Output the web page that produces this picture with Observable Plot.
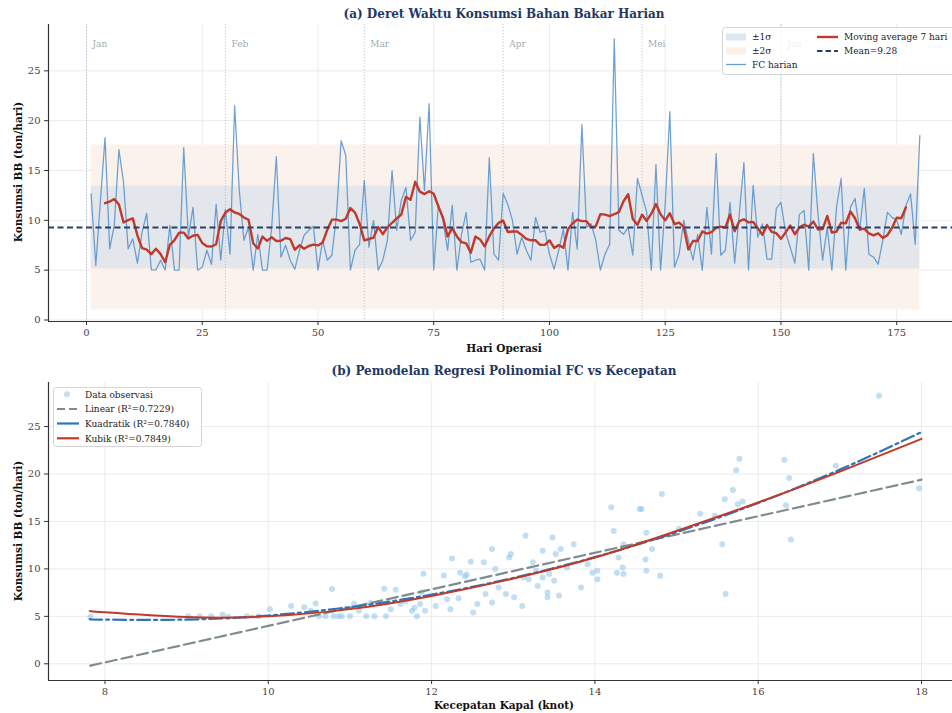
<!DOCTYPE html>
<html><head><meta charset="utf-8">
<script src="https://cdn.jsdelivr.net/npm/d3@7"></script>
<script src="https://cdn.jsdelivr.net/npm/@observablehq/plot@0.6"></script>
<style>
html,body{margin:0;padding:0;background:#fff;overflow:hidden;width:952px;height:713px;}
#root{position:relative;width:952px;height:713px;overflow:hidden;font-family:"DejaVu Serif",serif;}
#root svg{max-width:none !important;}
.abs{position:absolute;white-space:nowrap;line-height:1;}
.title{font-weight:bold;font-size:12px;color:#1f3864;transform:translate(-50%,-50%);}
.xlabel{font-weight:bold;font-size:10.5px;color:#111;transform:translate(-50%,-50%);}
.ylabel{font-weight:bold;font-size:10.5px;color:#111;transform:translate(-50%,-50%) rotate(-90deg);}
.plotbox{position:absolute;left:0;width:961px;}
</style></head>
<body><div id="root"></div>
<script>
// ---------- DATA: panel (a) ----------
const fcDaily = [
 12.66, 5.47, 11.9, 18.3, 7.14, 9.5, 17.1, 13.8, 7.14, 8.14,
 5.7, 8.8, 10.7, 5.03, 5.03, 6.0, 5.0, 9.5, 5.0, 5.0,
 17.3, 8.3, 11.3, 5.0, 5.3, 7.0, 5.6, 11.6, 6.0, 11.1,
 6.6, 21.5, 13.0, 8.0, 9.3, 5.0, 8.6, 5.0, 5.0, 9.3,
 16.4, 6.3, 7.5, 6.0, 5.1, 7.0, 8.5, 9.0, 9.4, 5.0,
 8.0, 6.0, 6.5, 10.5, 18.0, 16.5, 5.0, 7.0, 7.6, 14.0,
 7.3, 10.0, 5.0, 6.0, 8.0, 15.0, 9.0, 12.0, 13.3, 8.0,
 8.8, 20.35, 13.0, 21.7, 5.0, 11.6, 10.0, 7.0, 11.5, 5.0,
 8.6, 10.8, 5.8, 6.0, 6.1, 5.0, 16.3, 6.6, 6.0, 12.7,
 11.6, 10.0, 6.6, 8.3, 7.0, 6.0, 10.3, 8.8, 9.0, 6.6,
 5.1, 7.0, 9.1, 5.0, 10.8, 7.1, 19.6, 9.3, 9.65, 8.0,
 5.0, 6.6, 7.6, 28.2, 9.0, 8.6, 9.3, 6.5, 14.2, 12.5,
 10.8, 5.0, 15.6, 5.0, 11.6, 20.9, 5.3, 6.6, 10.0, 8.0,
 6.0, 8.6, 5.0, 11.3, 6.6, 16.7, 6.5, 7.0, 11.8, 5.7,
 10.6, 15.8, 5.0, 13.5, 8.3, 9.65, 6.1, 6.1, 11.2, 11.8,
 8.8, 7.3, 5.7, 10.6, 11.0, 5.0, 16.7, 10.6, 6.0, 9.3,
 5.0, 11.3, 14.2, 5.0, 11.3, 12.2, 9.0, 13.2, 6.6, 6.3,
 5.6, 8.0, 10.8, 10.3, 10.0, 8.6, 11.5, 12.66, 7.6, 18.5
];
const meanFC = 9.28;
const sdFC = 4.14;
const monthNames = ["Jan","Feb","Mar","Apr","Mei","Jun"];
const monthStartDays = [0, 30, 60, 90, 120, 150];
const xTicksA = [0, 25, 50, 75, 100, 125, 150, 175];
const yTicks = [0, 5, 10, 15, 20, 25];

// ---------- DATA: panel (b) ----------
const speedObs = [7.82,9.02,9.16,9.3,9.44,9.51,9.74,9.88,10.02,10.28,10.44,10.52,10.58,10.62,10.7,10.78,10.8,10.86,10.9,11.0,
 11.05,11.11,11.2,11.25,11.3,11.42,11.44,11.5,11.56,11.62,11.68,11.76,11.79,11.82,11.86,11.88,11.9,11.92,12.05,12.15,
 12.19,12.23,12.25,12.33,12.35,12.41,12.43,12.48,12.51,12.56,12.64,12.66,12.74,12.74,12.78,12.82,12.91,12.95,12.97,13.01,
 13.11,13.13,13.15,13.19,13.24,13.28,13.3,13.36,13.36,13.42,13.42,13.44,13.48,13.5,13.52,13.56,13.58,13.66,13.74,13.83,
 13.91,13.97,14.03,14.03,14.2,14.23,14.27,14.29,14.34,14.35,14.35,14.55,14.57,14.62,14.63,14.63,14.7,14.8,14.82,15.03,
 15.29,15.47,15.56,15.59,15.6,15.69,15.73,15.75,15.77,15.81,16.32,16.34,16.38,16.4,16.95,17.48,17.97];
const fcObs = [4.95,5.0,5.0,5.0,5.2,4.95,5.0,5.0,5.76,6.1,5.95,5.6,6.36,5.0,5.0,7.87,5.0,5.0,5.0,5.0,
 6.3,5.6,5.0,6.4,5.0,7.9,5.0,5.75,7.8,6.3,6.6,5.6,5.9,5.0,6.3,7.5,9.5,5.6,6.1,9.3,
 6.8,5.75,11.1,6.9,9.6,9.2,9.4,10.75,5.4,6.3,10.7,7.35,12.1,6.46,9.98,8.04,7.35,11.2,11.56,7.0,
 6.1,9.1,13.5,8.9,10.7,9.8,8.2,11.9,9.1,7.5,7.0,9.45,13.3,8.75,11.56,7.2,12.1,10.15,12.6,8.04,
 10.5,9.6,8.9,9.8,16.5,14.0,9.6,11.2,10.15,9.45,12.6,16.3,16.3,11.0,9.8,13.8,12.1,9.27,17.9,14.2,
 15.8,15.6,12.6,17.35,7.35,18.3,20.4,16.8,21.6,17.1,21.5,16.7,19.57,13.1,20.86,28.24,18.5];
const linearSpeed = [7.82, 18.0];
const linearFC = [-0.2, 19.4];
const curveSpeed = [7.82, 8, 9, 10, 11, 12, 13, 14, 15, 16, 17, 18];
const quadFC  = [4.70, 4.66, 4.66, 5.09, 5.97, 7.29, 9.04, 11.24, 13.87, 16.95, 20.46, 24.41];
const cubicFC = [5.55, 5.42, 4.92, 5.00, 5.76, 7.15, 8.98, 11.20, 14.00, 17.00, 20.25, 23.70];
const xTicksB = [8, 10, 12, 14, 16, 18];

// ---------- build tables ----------
const seriesA = fcDaily.map((v, i) => ({day: i + 1, fc: v}));
const bandData = [
  {x1: 1, x2: fcDaily.length, lo: meanFC - 2 * sdFC, hi: meanFC + 2 * sdFC, fill: "#fbf2ec"},
  {x1: 1, x2: fcDaily.length, lo: meanFC - sdFC, hi: meanFC + sdFC, fill: "#e3e6ea"}
];
const months = monthNames.map((m, i) => ({name: m, day: monthStartDays[i]}));
const obs = speedObs.map((s, i) => ({speed: s, fc: fcObs[i]}));
const linTable = linearSpeed.map((s, i) => ({speed: s, fc: linearFC[i]}));
const quadTable = curveSpeed.map((s, i) => ({speed: s, fc: quadFC[i]}));
const cubTable = curveSpeed.map((s, i) => ({speed: s, fc: cubicFC[i]}));

const root = document.getElementById("root");
function addText(cls, txt, x, y) {
  const d = document.createElement("div");
  d.className = "abs " + cls; d.textContent = txt;
  d.style.left = x + "px"; d.style.top = y + "px";
  root.appendChild(d);
}
const baseStyle = {fontFamily: "DejaVu Serif, serif", fontSize: "10px", color: "#444", background: "transparent", overflow: "visible", maxWidth: "none"};
const gridCol = "#e6e6e6";

// ---------- panel (a) ----------
const xDomA = [-8.21, 189], yDomA = [-0.15, 29.65];
const plotA = Plot.plot({
  width: 961, height: 360, marginLeft: 48, marginRight: 0, marginTop: 24, marginBottom: 39,
  style: baseStyle,
  x: {domain: xDomA, label: null}, y: {domain: yDomA, label: null},
  marks: [
    Plot.gridX(xTicksA, {stroke: gridCol, strokeOpacity: 1, strokeWidth: 0.8}),
    Plot.gridY(yTicks, {stroke: gridCol, strokeOpacity: 1, strokeWidth: 0.8}),
    Plot.rect(bandData, {x1: "x1", x2: "x2", y1: "lo", y2: "hi", fill: d => d.fill}),
    Plot.ruleX(months, {x: "day", stroke: "#b4c1ce", strokeWidth: 0.9, strokeDasharray: "1.2,1.8"}),
    Plot.text(months, {x: "day", y: 27.67, text: "name", dx: 6, textAnchor: "start", fill: "#a4abb3", fontSize: 9}),
    Plot.lineY(seriesA, {x: "day", y: "fc", stroke: "#4a8ac8", strokeOpacity: 0.8, strokeWidth: 1.25}),
    Plot.lineY(seriesA, Plot.windowY({k: 7, anchor: "middle", strict: true, reduce: "mean"},
      {x: "day", y: "fc", stroke: "#c0392b", strokeWidth: 2.4})),
    Plot.ruleY([meanFC], {stroke: "#2c3e6b", strokeWidth: 1.8, strokeDasharray: "6,3.5"}),
    Plot.ruleX([xDomA[0]], {stroke: "#333", strokeWidth: 1.2}),
    Plot.ruleY([yDomA[0]], {stroke: "#333", strokeWidth: 1.2}),
    Plot.axisX(xTicksA, {tickSize: 4, tickPadding: 3, label: null, stroke: "#333"}),
    Plot.axisY(yTicks, {tickSize: 4, tickPadding: 4, label: null, stroke: "#333"})
  ]
});
const boxA = document.createElement("div"); boxA.className = "plotbox"; boxA.style.top = "0px";
boxA.appendChild(plotA); root.appendChild(boxA);

// ---------- panel (b) ----------
const xDomB = [7.308, 18.49], yDomB = [-1.76, 29.64];
const plotB = Plot.plot({
  width: 961, height: 353, marginLeft: 48, marginRight: 0, marginTop: 22, marginBottom: 33,
  style: baseStyle,
  x: {domain: xDomB, label: null}, y: {domain: yDomB, label: null},
  marks: [
    Plot.gridX(xTicksB, {stroke: gridCol, strokeOpacity: 1, strokeWidth: 0.8}),
    Plot.gridY(yTicks, {stroke: gridCol, strokeOpacity: 1, strokeWidth: 0.8}),
    Plot.dot(obs, {x: "speed", y: "fc", r: 3, fill: "#8ec3ea", fillOpacity: 0.55, stroke: "none"}),
    Plot.line(linTable, {x: "speed", y: "fc", stroke: "#7f8c8d", strokeWidth: 2.2, strokeDasharray: "11,5"}),
    Plot.line(quadTable, {x: "speed", y: "fc", curve: "natural", stroke: "#2e75b6", strokeWidth: 2.2, strokeDasharray: "13,4,3,4"}),
    Plot.line(cubTable, {x: "speed", y: "fc", curve: "natural", stroke: "#c0392b", strokeWidth: 2.0}),
    Plot.ruleX([xDomB[0]], {stroke: "#333", strokeWidth: 1.2}),
    Plot.ruleY([yDomB[0]], {stroke: "#333", strokeWidth: 1.2}),
    Plot.axisX(xTicksB, {tickSize: 4, tickPadding: 3, label: null, stroke: "#333"}),
    Plot.axisY(yTicks, {tickSize: 4, tickPadding: 4, label: null, stroke: "#333"})
  ]
});
const boxB = document.createElement("div"); boxB.className = "plotbox"; boxB.style.top = "360px";
boxB.appendChild(plotB); root.appendChild(boxB);

// ---------- titles & labels ----------
addText("title", "(a) Deret Waktu Konsumsi Bahan Bakar Harian", 504, 14);
addText("xlabel", "Hari Operasi", 504, 348);
addText("ylabel", "Konsumsi BB (ton/hari)", 18, 172);
addText("title", "(b) Pemodelan Regresi Polinomial FC vs Kecepatan", 504, 371);
addText("xlabel", "Kecepatan Kapal (knot)", 504, 705);
addText("ylabel", "Konsumsi BB (ton/hari)", 18, 531);

// ---------- legends ----------
const ov = d3.select(root).append("svg").attr("width", 952).attr("height", 713)
  .style("position", "absolute").style("left", "0px").style("top", "0px")
  .style("font-family", "DejaVu Serif, serif").style("font-size", "9px");
// legend (a)
ov.append("rect").attr("x", 722.5).attr("y", 27.5).attr("width", 260).attr("height", 47).attr("rx", 3)
  .attr("fill", "#fff").attr("fill-opacity", 0.82).attr("stroke", "#d4d4d4");
ov.append("rect").attr("x", 726).attr("y", 33.5).attr("width", 20).attr("height", 7).attr("fill", "#dce7f3");
ov.append("text").attr("x", 752).attr("y", 40.3).attr("fill", "#222").text("±1σ");
ov.append("rect").attr("x", 726).attr("y", 47.5).attr("width", 20).attr("height", 7).attr("fill", "#fbefe6");
ov.append("text").attr("x", 752).attr("y", 54.3).attr("fill", "#222").text("±2σ");
ov.append("line").attr("x1", 726).attr("x2", 746).attr("y1", 64.5).attr("y2", 64.5).attr("stroke", "#4a8ac8").attr("stroke-opacity", 0.8).attr("stroke-width", 1.3);
ov.append("text").attr("x", 752).attr("y", 67.8).attr("fill", "#222").text("FC harian");
ov.append("line").attr("x1", 817).attr("x2", 838).attr("y1", 37).attr("y2", 37).attr("stroke", "#c0392b").attr("stroke-width", 2.4);
ov.append("text").attr("x", 844).attr("y", 40.3).attr("fill", "#222").text("Moving average 7 hari");
ov.append("line").attr("x1", 817).attr("x2", 838).attr("y1", 51).attr("y2", 51).attr("stroke", "#2c3e6b").attr("stroke-width", 1.8).attr("stroke-dasharray", "5.5,3");
ov.append("text").attr("x", 844).attr("y", 54.3).attr("fill", "#222").text("Mean=" + meanFC.toFixed(2));
// legend (b)
ov.append("rect").attr("x", 53.5).attr("y", 387.5).attr("width", 148).attr("height", 59).attr("rx", 3)
  .attr("fill", "#fff").attr("fill-opacity", 0.82).attr("stroke", "#d4d4d4");
ov.append("circle").attr("cx", 67).attr("cy", 394.3).attr("r", 3).attr("fill", "#8ec3ea").attr("fill-opacity", 0.55);
ov.append("text").attr("x", 85).attr("y", 397.5).attr("fill", "#222").text("Data observasi");
ov.append("line").attr("x1", 57).attr("x2", 79).attr("y1", 409).attr("y2", 409).attr("stroke", "#7f8c8d").attr("stroke-width", 2.2).attr("stroke-dasharray", "8,4");
ov.append("text").attr("x", 85).attr("y", 412.2).attr("fill", "#222").text("Linear (R²=0.7229)");
ov.append("line").attr("x1", 57).attr("x2", 79).attr("y1", 423.5).attr("y2", 423.5).attr("stroke", "#2e75b6").attr("stroke-width", 2.2);
ov.append("text").attr("x", 85).attr("y", 426.7).attr("fill", "#222").text("Kuadratik (R²=0.7840)");
ov.append("line").attr("x1", 57).attr("x2", 79).attr("y1", 438.3).attr("y2", 438.3).attr("stroke", "#c0392b").attr("stroke-width", 2.2);
ov.append("text").attr("x", 85).attr("y", 441.5).attr("fill", "#222").text("Kubik (R²=0.7849)");
</script>
</body></html>
